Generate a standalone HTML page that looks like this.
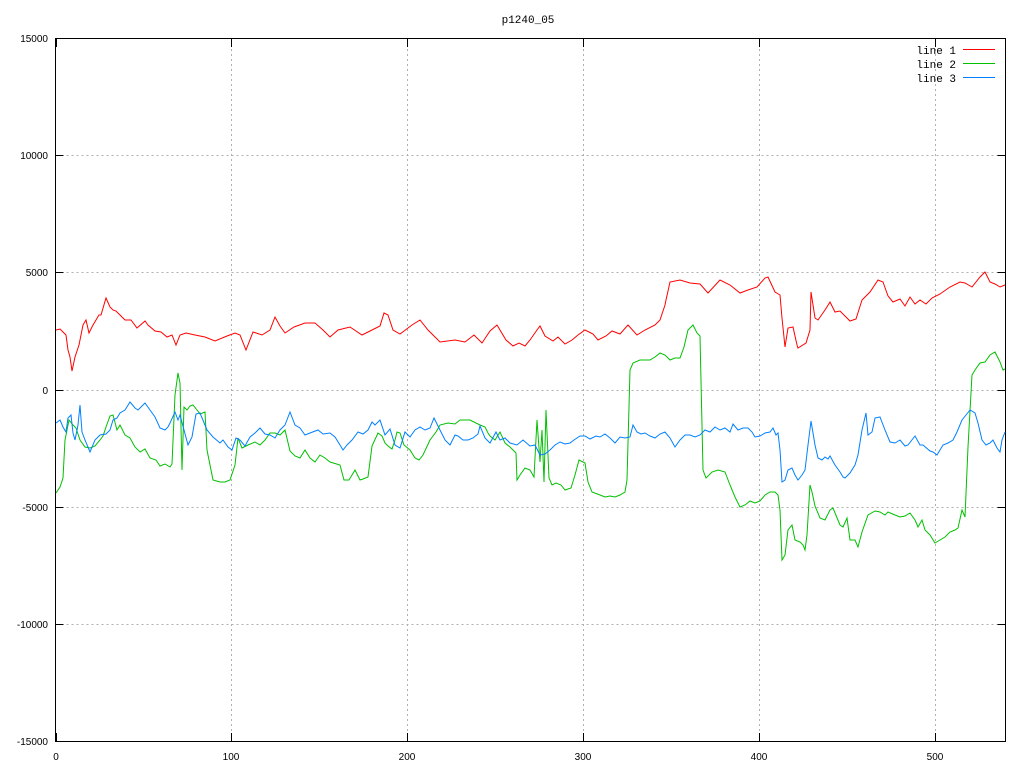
<!DOCTYPE html>
<html><head><meta charset="utf-8"><style>
html,body{margin:0;padding:0;background:#fff}
svg{display:block}
text{font-family:"Liberation Sans",sans-serif;font-size:10px;fill:#000}
text.m{font-family:"Liberation Mono",monospace;font-size:11px}
</style></head><body>
<svg width="1024" height="768" viewBox="0 0 1024 768">
<rect width="1024" height="768" fill="#fff"/>
<g stroke="#b0b0b0" stroke-width="1" stroke-dasharray="2,3" fill="none">
<path d="M56.5 155.5H1005 M56.5 272.5H1005 M56.5 390.5H1005 M56.5 507.5H1005 M56.5 624.5H1005"/>
<path d="M231.5 39V742 M407.5 39V742 M583.5 39V742 M759.5 39V742 M935.5 39V742"/>
</g>
<g stroke="#000" stroke-width="1" fill="none">
<rect x="55.5" y="38.5" width="950" height="703"/>
<path d="M55.5 38.5h8M55.5 155.5h8M55.5 272.5h8M55.5 390.5h8M55.5 507.5h8M55.5 624.5h8M55.5 741.5h8"/>
<path d="M1005.5 38.5h-8M1005.5 155.5h-8M1005.5 272.5h-8M1005.5 390.5h-8M1005.5 507.5h-8M1005.5 624.5h-8M1005.5 741.5h-8"/>
<path d="M56.5 741v-8M231.5 741v-8M407.5 741v-8M583.5 741v-8M759.5 741v-8M935.5 741v-8"/>
<path d="M56.5 39v8M231.5 39v8M407.5 39v8M583.5 39v8M759.5 39v8M935.5 39v8"/>
</g>
<g text-anchor="end">
<text x="48" y="42">15000</text><text x="48" y="159">10000</text><text x="48" y="276">5000</text>
<text x="48" y="394">0</text><text x="48" y="511">-5000</text><text x="48" y="628">-10000</text><text x="48" y="745">-15000</text>
</g>
<g text-anchor="middle">
<text x="56" y="760">0</text><text x="231" y="760">100</text><text x="407" y="760">200</text>
<text x="583" y="760">300</text><text x="759" y="760">400</text><text x="935" y="760">500</text>
<text class="m" x="528" y="23">p1240_05</text>
</g>
<g text-anchor="end">
<text class="m" x="956" y="54">line 1</text><text class="m" x="956" y="68">line 2</text><text class="m" x="956" y="82">line 3</text>
</g>
<polyline points="963,49.5 995,49.5" fill="none" stroke="#ff0000" stroke-width="1"/>
<polyline points="963,63.5 995,63.5" fill="none" stroke="#00c000" stroke-width="1"/>
<polyline points="963,77.5 995,77.5" fill="none" stroke="#0080ff" stroke-width="1"/>
<g fill="none" stroke-width="1">
<polyline stroke="#ff0000" points="56,330 60,329 63,332 66,335 68,350 70,357 72,371 75,357 79,345 83,325 86,320 89,333 93,325 99,315 101,315 106,298 110,307 113,310 116,311 120,315 125,320 131,320 137,328 145,321 148,325 155,331 161,332 167,337 172,335 176,345 180,335 186,333 195,335 205,337 215,341 227,336 235,333 240,335 246,350 253,332 262,335 270,330 275,317 280,326 285,333 294,327 305,323 315,323 323,330 330,337 338,330 350,327 362,335 370,331 380,326 384,313 388,315 393,330 400,334 412,325 420,320 428,330 440,342 455,340 465,342 474,335 482,343 490,331 497,325 506,340 513,346 519,343 525,346 530,340 537,330 540,326 545,336 553,341 558,337 565,344 572,340 578,335 585,330 593,334 598,340 606,336 612,331 620,334 628,325 637,335 645,330 655,325 660,320 665,305 666,300 670,282 680,280 690,283 700,284 708,293 720,280 730,285 740,293 748,290 757,287 765,278 768,277 775,292 780,295 782,318 785,347 788,328 793,327 797,345 798,348 806,343 810,330 811,292 815,318 818,320 825,310 830,302 835,312 840,311 850,321 856,319 862,300 870,292 878,280 883,282 888,296 893,302 900,299 905,306 910,297 915,304 920,300 926,304 932,298 940,294 950,287 960,282 965,283 972,287 980,277 985,272 990,282 995,284 1000,287 1005,285"/>
<polyline stroke="#00c000" points="56,493 60,487 63,478 65,440 69,420 73,425 76,428 80,440 85,447 90,448 95,446 100,440 103,436 106,427 110,416 113,415 117,430 120,425 125,435 130,438 135,447 140,452 145,449 150,458 156,460 160,466 165,464 170,467 172,464 175,395 178,373 180,383 182,470 184,407 187,410 190,406 193,405 197,410 200,414 205,412 207,450 213,480 220,482 225,482 230,480 235,465 238,438 242,448 248,445 255,442 260,445 265,440 270,433 275,433 280,435 285,430 290,451 295,456 300,458 305,450 310,458 315,462 320,455 325,458 330,462 340,465 344,480 349,480 355,470 360,480 363,479 368,477 372,446 378,433 382,436 385,443 388,446 392,449 395,440 397,432 400,433 404,445 410,450 415,458 419,460 423,455 430,440 436,432 440,425 448,423 455,424 460,420 470,420 480,425 485,427 488,433 490,436 495,440 500,432 505,443 510,447 516,453 517,480 520,475 525,468 530,470 534,477 537,420 540,462 542,430 544,482 546,410 549,478 552,485 556,483 561,485 565,490 571,488 575,475 579,460 585,463 588,482 592,492 600,495 605,497 610,496 615,497 620,495 625,492 627,480 630,370 633,363 640,360 650,360 655,357 660,353 665,355 670,360 675,358 680,358 684,347 688,330 693,325 697,333 700,336 703,470 706,478 712,472 718,470 725,472 730,485 735,497 740,507 745,505 750,501 755,503 760,501 765,495 770,492 775,492 778,495 780,510 782,560 785,555 788,530 792,525 795,540 800,542 803,545 805,550 807,535 810,485 812,492 815,506 820,518 825,520 830,510 833,508 840,525 843,527 847,518 850,540 855,540 858,547 862,532 868,515 875,511 880,512 885,515 888,512 895,515 900,517 905,516 910,513 915,520 918,527 922,520 925,530 930,535 935,543 945,537 950,532 955,530 958,528 962,510 965,517 968,447 972,375 975,370 980,363 985,362 990,355 995,352 1000,362 1003,370 1005,369"/>
<polyline stroke="#0080ff" points="56,423 60,420 63,427 66,432 68,418 71,415 73,433 75,440 78,425 80,405 82,432 85,440 90,452 95,440 100,435 106,434 110,430 113,420 117,418 120,413 125,410 130,402 135,408 138,410 145,403 150,410 155,417 160,428 165,430 168,427 170,423 175,412 178,420 180,415 184,430 188,445 192,437 196,414 200,413 207,430 213,437 220,443 223,440 228,447 232,450 236,438 240,440 245,446 250,437 255,433 260,428 265,434 270,435 275,438 280,430 285,425 290,412 295,425 300,428 305,435 310,433 318,430 323,434 330,433 335,437 340,445 343,450 347,445 352,440 358,432 363,434 368,430 372,422 375,425 380,420 385,435 390,429 395,445 400,448 405,432 410,437 415,430 420,427 425,430 430,428 434,418 440,430 445,440 450,445 455,435 458,436 463,440 468,440 473,438 478,434 480,426 485,438 490,443 496,432 500,440 505,438 510,443 517,445 523,440 530,446 535,445 540,455 545,454 550,450 555,445 560,442 565,444 570,443 574,440 580,436 585,436 590,439 596,436 600,437 605,434 610,438 615,443 620,437 625,438 630,437 633,425 637,432 641,434 645,433 650,436 655,438 660,434 665,432 670,438 675,447 680,440 685,435 690,435 695,437 700,435 705,430 710,432 715,427 720,430 725,428 730,432 733,424 738,430 743,428 748,428 752,432 755,437 760,436 765,433 770,432 773,428 776,435 778,433 780,450 782,482 785,480 788,470 792,468 795,475 798,480 802,475 805,470 808,445 811,421 815,445 818,458 822,460 825,457 828,459 830,456 835,465 840,472 843,477 845,478 850,473 855,465 858,455 862,430 866,413 868,435 872,432 875,418 880,417 885,430 890,442 895,443 900,440 905,446 908,445 915,436 920,445 923,445 930,451 933,452 937,455 943,445 948,443 953,440 957,432 962,420 966,415 970,410 975,413 978,423 982,440 986,445 990,443 993,440 997,448 1000,452 1002,440 1005,432"/>
</g>
</svg>
</body></html>
